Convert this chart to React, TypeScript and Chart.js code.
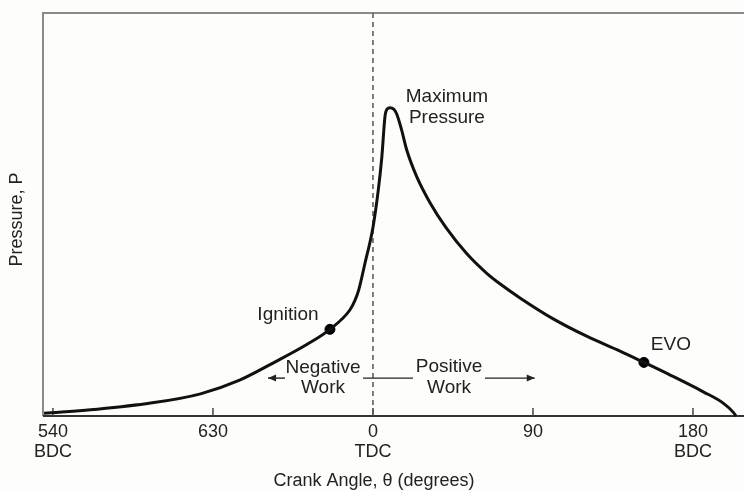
import React, { useEffect, useRef } from "react";
import { Chart, registerables } from "chart.js";

Chart.register(...registerables);

// Crank angle in degrees relative to TDC (negative = compression stroke, 540..720)
const CRANK_ANGLES = [
  -185, -155, -125, -97, -75, -56, -37, -24.2, -13, -10, -8, -4.5, 0, 3, 5, 6.75, 8, 9.6, 11.5,
  13.3, 16.1, 19, 24.6, 32, 41, 52.7, 64, 71.4, 82.7, 101.4, 120.2, 139, 152.4, 167, 185.8, 197, 202.7, 204.2,
];
// Cylinder pressure (arbitrary units, 0..100 full frame height)
const PRESSURES = [
  0.7, 1.7, 3.2, 5.5, 8.9, 13.2, 17.8, 21.5, 26.3, 28.8, 31.3, 37.9, 46.8, 56.1, 64.3, 74.3, 76.2, 76.5, 76.2,
  75.0, 71.0, 66.0, 59.4, 53.0, 46.8, 40.3, 35.4, 32.8, 29.3, 24.1, 19.8, 16.1, 13.3, 10.2, 6.0, 3.2, 0.9, 0,
];
// Marked events: Ignition and EVO
const MARKER_ANGLES = [-24.2, 152.4];
const MARKER_PRESSURES = [21.5, 13.3];

const TICK_VALUES = [-180, -90, 0, 90, 180];
const TICK_LABELS = [["540", "BDC"], ["630"], ["0", "TDC"], ["90"], ["180", "BDC"]];

const X_MIN = -185.6;
const X_MAX = 208.7;
const Y_MIN = 0;
const Y_MAX = 100;

const X_TITLE = "Crank Angle, \u03b8 (degrees)";
const Y_TITLE = "Pressure, P";

// Annotation texts placed in data units
const NOTE_TEXTS = ["Maximum", "Pressure", "Ignition", "EVO", "Negative", "Work", "Positive", "Work"];
const NOTE_ANGLES = [41.6, 41.6, -47.8, 167.6, -28.1, -28.1, 42.8, 42.8];
const NOTE_PRESSURES = [79.2, 74.0, 25.0, 17.6, 11.9, 6.9, 12.2, 6.9];

// Work arrows (angle from, angle to, pressure level, arrowhead?)
const ARROW_FROM = [-49.5, -5.6, 63];
const ARROW_TO = [-59, 22.5, 91];
const ARROW_LEVEL = 9.4;
const ARROW_HEAD = [true, false, true];

const FONT = "'Liberation Sans', Arial, Helvetica, sans-serif";
const TEXT_COLOR = "#222";

const decorPlugin = {
  id: "decor",
  beforeDatasetsDraw(chart: any) {
    const { ctx, chartArea, scales } = chart;
    const x = scales.x;
    ctx.save();
    // frame: top and left in grey, bottom axis dark
    ctx.lineWidth = 2;
    ctx.strokeStyle = "#8a8a8a";
    ctx.beginPath();
    ctx.moveTo(chartArea.left, chartArea.bottom);
    ctx.lineTo(chartArea.left, chartArea.top);
    ctx.lineTo(chartArea.right, chartArea.top);
    ctx.stroke();
    ctx.strokeStyle = "#333";
    ctx.beginPath();
    ctx.moveTo(chartArea.left, chartArea.bottom);
    ctx.lineTo(chartArea.right, chartArea.bottom);
    ctx.stroke();
    // inside tick marks
    ctx.lineWidth = 1.5;
    ctx.strokeStyle = "#444";
    TICK_VALUES.forEach((v) => {
      const px = x.getPixelForValue(v);
      ctx.beginPath();
      ctx.moveTo(px, chartArea.bottom);
      ctx.lineTo(px, chartArea.bottom - 8);
      ctx.stroke();
    });
    // TDC dashed line
    const px0 = x.getPixelForValue(0);
    ctx.setLineDash([5, 4]);
    ctx.strokeStyle = "#555";
    ctx.lineWidth = 1.5;
    ctx.beginPath();
    ctx.moveTo(px0, chartArea.top);
    ctx.lineTo(px0, chartArea.bottom);
    ctx.stroke();
    ctx.restore();
  },
  afterDraw(chart: any) {
    const { ctx, chartArea, scales } = chart;
    const x = scales.x;
    const y = scales.y;
    ctx.save();
    ctx.fillStyle = TEXT_COLOR;
    ctx.textAlign = "center";
    ctx.textBaseline = "middle";
    ctx.font = `19px ${FONT}`;
    NOTE_TEXTS.forEach((t, i) => {
      ctx.fillText(t, x.getPixelForValue(NOTE_ANGLES[i]), y.getPixelForValue(NOTE_PRESSURES[i]));
    });
    // arrows
    ctx.strokeStyle = "#222";
    ctx.fillStyle = "#222";
    ctx.lineWidth = 1.4;
    const ay = y.getPixelForValue(ARROW_LEVEL);
    ARROW_FROM.forEach((a, i) => {
      const x1 = x.getPixelForValue(a);
      const x2 = x.getPixelForValue(ARROW_TO[i]);
      ctx.beginPath();
      ctx.moveTo(x1, ay);
      ctx.lineTo(x2, ay);
      ctx.stroke();
      if (ARROW_HEAD[i]) {
        const dir = x2 > x1 ? 1 : -1;
        ctx.beginPath();
        ctx.moveTo(x2, ay);
        ctx.lineTo(x2 - dir * 8, ay - 3.5);
        ctx.lineTo(x2 - dir * 8, ay + 3.5);
        ctx.closePath();
        ctx.fill();
      }
    });
    // axis titles
    ctx.fillStyle = TEXT_COLOR;
    ctx.font = `18px ${FONT}`;
    ctx.fillText(X_TITLE, x.getPixelForValue(0) + 1, chartArea.bottom + 65);
    ctx.translate(17, (chartArea.top + chartArea.bottom) / 2 + 5);
    ctx.rotate(-Math.PI / 2);
    ctx.fillText(Y_TITLE, 0, 0);
    ctx.restore();
  },
};

export default function App() {
  const canvasRef = useRef<HTMLCanvasElement | null>(null);

  useEffect(() => {
    if (!canvasRef.current) return;
    const chart = new Chart(canvasRef.current, {
      type: "line",
      data: {
        datasets: [
          {
            data: CRANK_ANGLES.map((a, i) => ({ x: a, y: PRESSURES[i] })),
            borderColor: "#111",
            borderWidth: 3,
            pointRadius: 0,
            cubicInterpolationMode: "monotone",
            fill: false,
            clip: false,
          } as any,
          {
            type: "scatter",
            data: MARKER_ANGLES.map((a, i) => ({ x: a, y: MARKER_PRESSURES[i] })),
            backgroundColor: "#000",
            borderColor: "#000",
            pointRadius: 5,
            showLine: false,
          } as any,
        ],
      },
      options: {
        animation: false,
        responsive: false,
        layout: { autoPadding: false, padding: { top: 13, left: 0, right: 0, bottom: 0 } },
        plugins: { legend: { display: false }, tooltip: { enabled: false }, title: { display: false } },
        scales: {
          x: {
            type: "linear",
            min: X_MIN,
            max: X_MAX,
            grid: { display: false, drawTicks: false },
            border: { display: false },
            afterBuildTicks: (scale: any) => {
              scale.ticks = TICK_VALUES.map((v) => ({ value: v }));
            },
            afterFit: (scale: any) => {
              scale.height = 74;
              scale.paddingLeft = 0;
              scale.paddingRight = 0;
            },
            ticks: {
              padding: 6,
              maxRotation: 0,
              autoSkip: false,
              color: TEXT_COLOR,
              font: { family: FONT, size: 18, lineHeight: 1.1 },
              callback: (v: any) => {
                const idx = TICK_VALUES.indexOf(Number(v));
                return idx >= 0 ? TICK_LABELS[idx] : "";
              },
            },
          },
          y: {
            type: "linear",
            min: Y_MIN,
            max: Y_MAX,
            grid: { display: false, drawTicks: false },
            border: { display: false },
            ticks: { display: false },
            afterFit: (scale: any) => {
              scale.width = 43;
              scale.paddingTop = 0;
              scale.paddingBottom = 0;
            },
          },
        },
      },
      plugins: [decorPlugin],
    });
    return () => chart.destroy();
  }, []);

  return (
    <div style={{ position: "absolute", left: 0, top: 0, width: 744, height: 490, background: "#fdfdfb" }}>
      <canvas ref={canvasRef} width={744} height={490} style={{ display: "block" }} />
    </div>
  );
}
